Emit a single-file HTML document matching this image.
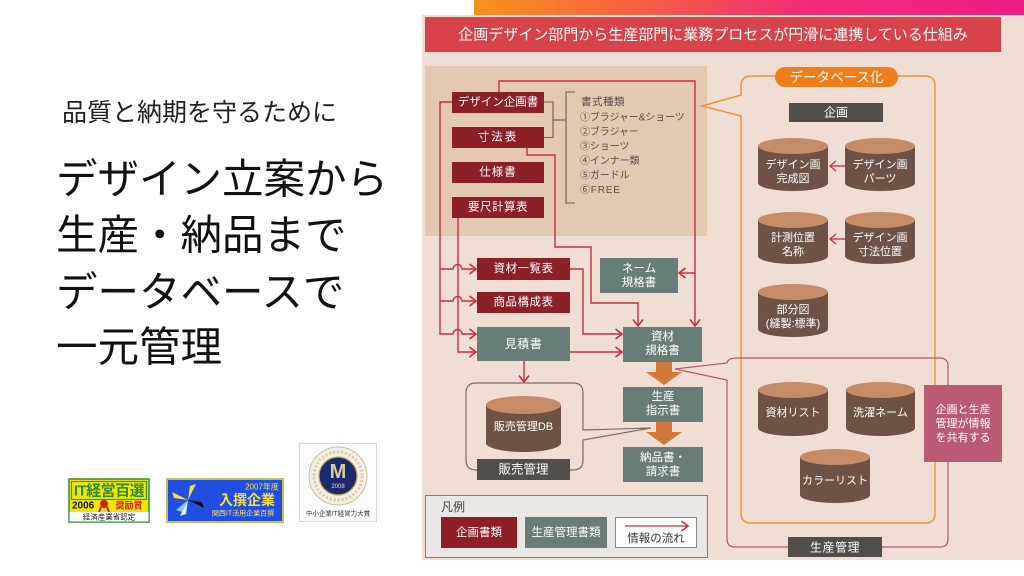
<!DOCTYPE html>
<html lang="ja">
<head>
<meta charset="utf-8">
<style>
html,body{margin:0;padding:0;background:#fff;}
body{width:1024px;height:576px;overflow:hidden;}
svg{display:block;}
text{font-family:"Liberation Sans","Noto Sans CJK JP",sans-serif;}
</style>
</head>
<body>
<svg width="1024" height="576" viewBox="0 0 1024 576" xmlns="http://www.w3.org/2000/svg">
<defs>
  <linearGradient id="bar" x1="0" y1="0" x2="1" y2="0">
    <stop offset="0" stop-color="#f7921c"/>
    <stop offset="0.35" stop-color="#f5574a"/>
    <stop offset="0.6" stop-color="#f02c76"/>
    <stop offset="1" stop-color="#ee1c86"/>
  </linearGradient>
  <marker id="ah" markerWidth="10" markerHeight="12" refX="8" refY="6" orient="auto" markerUnits="userSpaceOnUse">
    <path d="M1.5,1 L8,6 L1.5,11" fill="none" stroke="#cc2c3c" stroke-width="1.6"/>
  </marker>
</defs>

<!-- left text -->
<text x="62" y="113" font-size="25" fill="#222" dominant-baseline="central">品質と納期を守るために</text>
<text x="56" y="179" font-size="41.5" fill="#111" dominant-baseline="central">デザイン立案から</text>
<text x="56" y="235" font-size="41.5" fill="#111" dominant-baseline="central">生産・納品まで</text>
<text x="56" y="292" font-size="41.5" fill="#111" dominant-baseline="central">データベースで</text>
<text x="56" y="347" font-size="41.5" fill="#111" dominant-baseline="central">一元管理</text>

<!-- logos -->
<g>
  <rect x="69" y="479" width="80" height="43" fill="#f1e600" stroke="#2f8f3a" stroke-width="1.5"/>
  <rect x="71.5" y="481.5" width="75" height="18" fill="none" stroke="#2f8f3a" stroke-width="1.2"/>
  <text x="109" y="491" font-size="15" fill="#2d8b3a" text-anchor="middle" dominant-baseline="central" font-weight="bold" letter-spacing="-0.5">IT経営百選</text>
  <text x="72" y="506" font-size="10" fill="#111" dominant-baseline="central" font-weight="bold">2006</text>
  <circle cx="104" cy="504" r="4" fill="#d02020"/>
  <path d="M101,507 L99,512 M107,507 L109,512" stroke="#d02020" stroke-width="2"/>
  <rect x="114" y="500" width="32" height="11" fill="#f1e600"/>
  <text x="129" y="505.5" font-size="9" fill="#d02020" text-anchor="middle" dominant-baseline="central" font-weight="bold">奨励賞</text>
  <rect x="69.5" y="512" width="79" height="9.5" fill="#fff"/>
  <text x="109" y="517" font-size="7.5" fill="#222" text-anchor="middle" dominant-baseline="central">経済産業省認定</text>
</g>
<g>
  <rect x="167" y="479" width="116" height="43" fill="#1f4ee0" stroke="#c9c040" stroke-width="2"/>
  <g transform="translate(188,500)">
    <polygon points="0,0 -16,-8 -14,-2" fill="#f4e23a"/>
    <polygon points="0,0 8,-16 2,-14" fill="#f4e23a"/>
    <polygon points="0,0 16,8 14,2" fill="#111"/>
    <polygon points="0,0 -8,16 -2,14" fill="#e8f0ff"/>
    <polygon points="0,0 -12,10 -6,12" fill="#88c8f0"/>
  </g>
  <text x="262" y="487" font-size="8" fill="#f5e64a" text-anchor="middle" dominant-baseline="central">2007年度</text>
  <text x="247" y="500" font-size="14" fill="#f5e04a" text-anchor="middle" dominant-baseline="central" font-weight="bold">入撰企業</text>
  <text x="243" y="514" font-size="7" fill="#f8e070" text-anchor="middle" dominant-baseline="central">関西IT活用企業百撰</text>
</g>
<g>
  <rect x="299.5" y="443.5" width="77" height="78" fill="#fbfbfb" stroke="#d6d6d6"/>
  <circle cx="338" cy="476" r="29" fill="#f2efe6" stroke="#cdbf92" stroke-width="1"/>
  <circle cx="338" cy="476" r="24" fill="none" stroke="#d8ccaa" stroke-width="3" stroke-dasharray="2 2"/>
  <circle cx="338" cy="476" r="19" fill="#1c2a6b" stroke="#c9a84a" stroke-width="1.2"/>
  <text x="338" y="472" font-size="20" fill="#d9c9a0" text-anchor="middle" dominant-baseline="central" font-family="Liberation Serif, serif" font-weight="bold">M</text>
  <text x="338" y="487" font-size="6" fill="#ddd" text-anchor="middle" dominant-baseline="central">2008</text>
  <text x="338" y="514" font-size="6.5" fill="#333" text-anchor="middle" dominant-baseline="central">中小企業IT経営力大賞</text>
</g>

<!-- right panel -->
<rect x="474" y="0" width="550" height="15" fill="url(#bar)"/>
<rect x="422" y="15" width="602" height="545" fill="#f0ddd4"/>
<rect x="425" y="17" width="576" height="35" fill="#d8434b"/>
<text x="713" y="35" font-size="15" fill="#fff" text-anchor="middle" dominant-baseline="central">企画デザイン部門から生産部門に業務プロセスが円滑に連携している仕組み</text>

<!-- beige block -->
<rect x="425" y="66" width="282" height="170" fill="#e4c9b1"/>

<!-- bracket / list -->
<g stroke="#6e5c54" stroke-width="1.1" fill="none">
  <path d="M544,102 H553 V137.5 H544"/>
  <path d="M553,120 H566"/>
  <path d="M575,92 H566 V203 H575"/>
</g>
<g font-size="10" fill="#5b4b45" letter-spacing="-0.1">
  <text x="581" y="102" dominant-baseline="central" font-size="10.5" letter-spacing="0.5">書式種類</text>
  <text x="580" y="118" dominant-baseline="central">①ブラジャー&amp;ショーツ</text>
  <text x="580" y="132.5" dominant-baseline="central">②ブラジャー</text>
  <text x="580" y="147" dominant-baseline="central">③ショーツ</text>
  <text x="580" y="161.5" dominant-baseline="central">④インナー類</text>
  <text x="580" y="176" dominant-baseline="central">⑤ガードル</text>
  <text x="580" y="190.5" dominant-baseline="central" letter-spacing="0.8">⑥FREE</text>
</g>

<!-- orange database group -->
<path d="M751,76 H925 Q935,76 935,86 V513 Q935,523 925,523 H751 Q741,523 741,513 V116 L702,106 L741,95 V86 Q741,76 751,76 Z" fill="none" stroke="#f0953a" stroke-width="1.5"/>
<rect x="775" y="67" width="123" height="20" rx="10" fill="#ef7d1a"/>
<text x="836.5" y="77.5" font-size="13.5" fill="#fff" text-anchor="middle" dominant-baseline="central">データベース化</text>
<rect x="789" y="103" width="94" height="19" fill="#514d4b"/>
<text x="836" y="112.5" font-size="12" fill="#fff" text-anchor="middle" dominant-baseline="central">企画</text>

<!-- production group -->
<path d="M737,358 H940 Q948,358 948,366 V539 Q948,547 940,547 H735 Q727,547 727,539 V380 L675,369 L727,363 Q728,358 737,358 Z" fill="none" stroke="#b8586c" stroke-width="1.2"/>
<rect x="788" y="537" width="94" height="20" fill="#514d4b"/>
<text x="835" y="547.5" font-size="12" fill="#fff" text-anchor="middle" dominant-baseline="central" letter-spacing="0.5">生産管理</text>

<rect x="924" y="385" width="78" height="77" fill="#bb5a73"/>
<g font-size="11" fill="#fff" text-anchor="middle">
  <text x="963" y="410" dominant-baseline="central">企画と生産</text>
  <text x="963" y="424" dominant-baseline="central">管理が情報</text>
  <text x="963" y="438" dominant-baseline="central">を共有する</text>
</g>

<!-- cylinders -->
<g>
  <path d="M758,146 V183 A35,8 0 0 0 828,183 V146 Z" fill="#6f5246"/>
  <ellipse cx="793" cy="146" rx="35" ry="8" fill="#c68b67"/>
  <path d="M845,146 V183 A35,8 0 0 0 915,183 V146 Z" fill="#6f5246"/>
  <ellipse cx="880" cy="146" rx="35" ry="8" fill="#c68b67"/>
  <path d="M758,220 V256 A35,8 0 0 0 828,256 V220 Z" fill="#6f5246"/>
  <ellipse cx="793" cy="220" rx="35" ry="8" fill="#c68b67"/>
  <path d="M845,220 V256 A35,8 0 0 0 915,256 V220 Z" fill="#6f5246"/>
  <ellipse cx="880" cy="220" rx="35" ry="8" fill="#c68b67"/>
  <path d="M758,292 V329 A35,8 0 0 0 828,329 V292 Z" fill="#6f5246"/>
  <ellipse cx="793" cy="292" rx="35" ry="8" fill="#c68b67"/>
  <path d="M758,390 V428 A35,8 0 0 0 828,428 V390 Z" fill="#6f5246"/>
  <ellipse cx="793" cy="390" rx="35" ry="8" fill="#c68b67"/>
  <path d="M846,390 V428 A34.5,8 0 0 0 915,428 V390 Z" fill="#6f5246"/>
  <ellipse cx="880.5" cy="390" rx="34.5" ry="8" fill="#c68b67"/>
  <path d="M800,457 V495 A35,8 0 0 0 870,495 V457 Z" fill="#6f5246"/>
  <ellipse cx="835" cy="457" rx="35" ry="8" fill="#c68b67"/>
  <path d="M486,405 V443 A37.5,9 0 0 0 561,443 V405 Z" fill="#6f5246"/>
  <ellipse cx="523.5" cy="405" rx="37.5" ry="9" fill="#c68b67"/>
</g>
<g font-size="11" fill="#fff" text-anchor="middle">
  <text x="793" y="165" dominant-baseline="central">デザイン画</text>
  <text x="793" y="179" dominant-baseline="central">完成図</text>
  <text x="880" y="165" dominant-baseline="central">デザイン画</text>
  <text x="880" y="179" dominant-baseline="central">パーツ</text>
  <text x="793" y="238" dominant-baseline="central">計測位置</text>
  <text x="793" y="252" dominant-baseline="central">名称</text>
  <text x="880" y="238" dominant-baseline="central">デザイン画</text>
  <text x="880" y="252" dominant-baseline="central">寸法位置</text>
  <text x="793" y="310" dominant-baseline="central">部分図</text>
  <text x="793" y="324" dominant-baseline="central">(縫製:標準)</text>
  <text x="793" y="413" dominant-baseline="central">資材リスト</text>
  <text x="880.5" y="413" dominant-baseline="central">洗濯ネーム</text>
  <text x="835" y="481" dominant-baseline="central">カラーリスト</text>
  <text x="523.5" y="427" dominant-baseline="central">販売管理DB</text>
</g>
<g stroke="#cc2c3c" stroke-width="1.3" fill="none">
  <path d="M845,166 H830"/>
  <path d="M836,161 L830,166 L836,171"/>
  <path d="M845,239 H830"/>
  <path d="M836,234 L830,239 L836,244"/>
</g>

<!-- sales group -->
<path d="M476,383 H573 Q583,383 583,393 V430 L651,428 L583,440 V460 Q583,470 573,470 H476 Q466,470 466,460 V393 Q466,383 476,383 Z" fill="none" stroke="#7b6f6a" stroke-width="1.2"/>
<rect x="477" y="459" width="93" height="21" fill="#514d4b"/>
<text x="523.5" y="469.5" font-size="12.5" fill="#fff" text-anchor="middle" dominant-baseline="central">販売管理</text>

<!-- dark red boxes -->
<g fill="#8d1f26">
  <rect x="452" y="92" width="92" height="21"/>
  <rect x="452" y="127" width="92" height="21"/>
  <rect x="452" y="162" width="92" height="21"/>
  <rect x="452" y="197" width="92" height="21"/>
  <rect x="477" y="258" width="93" height="22"/>
  <rect x="477" y="292" width="93" height="21"/>
</g>
<g font-size="11.5" fill="#fff" text-anchor="middle">
  <text x="498" y="102.5" dominant-baseline="central">デザイン企画書</text>
  <text x="498" y="137.5" dominant-baseline="central" letter-spacing="2">寸法表</text>
  <text x="498" y="172.5" dominant-baseline="central" letter-spacing="1">仕様書</text>
  <text x="498" y="207.5" dominant-baseline="central" letter-spacing="0.5">要尺計算表</text>
  <text x="523.5" y="269" dominant-baseline="central" letter-spacing="0.5">資材一覧表</text>
  <text x="523.5" y="302.5" dominant-baseline="central" letter-spacing="0.5">商品構成表</text>
</g>

<!-- teal boxes -->
<g fill="#687c78">
  <rect x="477" y="327" width="93" height="34"/>
  <rect x="600" y="258" width="78" height="35"/>
  <rect x="623" y="327" width="79" height="35"/>
  <rect x="623" y="387" width="80" height="35"/>
  <rect x="623" y="447" width="80" height="35"/>
</g>
<g font-size="11.5" fill="#fff" text-anchor="middle">
  <text x="523.5" y="344" dominant-baseline="central" font-size="12" letter-spacing="0.5">見積書</text>
  <text x="639" y="269" dominant-baseline="central">ネーム</text>
  <text x="639" y="283" dominant-baseline="central">規格書</text>
  <text x="662.5" y="337" dominant-baseline="central">資材</text>
  <text x="662.5" y="351" dominant-baseline="central">規格書</text>
  <text x="663" y="397" dominant-baseline="central">生産</text>
  <text x="663" y="411" dominant-baseline="central">指示書</text>
  <text x="663" y="458" dominant-baseline="central">納品書・</text>
  <text x="663" y="472" dominant-baseline="central">請求書</text>
</g>

<!-- big orange arrows -->
<path d="M656,362 H672 V372 H682 L664,385 L646,372 H656 Z" fill="#d4773a"/>
<path d="M656,422 H672 V432 H682 L664,445 L646,432 H656 Z" fill="#d4773a"/>

<!-- red connectors -->
<g stroke="#cc2c3c" stroke-width="1.4" fill="none">
  <path d="M499,92 V81 H695 V326" marker-end="url(#ah)"/>
  <path d="M695,273 H679" marker-end="url(#ah)"/>
  <path d="M452,102 H440 V334 H453 a4.5,4.5 0 0 1 9,0 H476" marker-end="url(#ah)"/>
  <path d="M440,269 H453 a4.5,4.5 0 0 1 9,0 H476" marker-end="url(#ah)"/>
  <path d="M440,301 H453 a4.5,4.5 0 0 1 9,0 H476" marker-end="url(#ah)"/>
  <path d="M458,218 V352 H476" marker-end="url(#ah)"/>
  <path d="M527,148 V155 H555 V247 H591 V303 H638 V326" marker-end="url(#ah)"/>
  <path d="M570,269 H583 V334 H622" marker-end="url(#ah)"/>
  <path d="M570,352 H622" marker-end="url(#ah)"/>
  <path d="M524,361 V382" marker-end="url(#ah)"/>
</g>

<!-- legend -->
<rect x="425.5" y="495.5" width="282" height="62" fill="#ebe7e4" stroke="#857b76" stroke-width="1"/>
<text x="441" y="507" font-size="12" fill="#444" dominant-baseline="central">凡例</text>
<rect x="441" y="517" width="76" height="31" fill="#8d1f26"/>
<text x="479" y="533" font-size="11.5" fill="#fff" text-anchor="middle" dominant-baseline="central">企画書類</text>
<rect x="525" y="517" width="82" height="31" fill="#687c78"/>
<text x="566" y="533" font-size="11.5" fill="#fff" text-anchor="middle" dominant-baseline="central">生産管理書類</text>
<rect x="615.5" y="517.5" width="81" height="30" fill="#fff" stroke="#8a8a8a" stroke-width="1"/>
<path d="M625,526 H688" stroke="#cc2c3c" stroke-width="1.3" fill="none" marker-end="url(#ah)"/>
<text x="656" y="539" font-size="11.5" fill="#333" text-anchor="middle" dominant-baseline="central">情報の流れ</text>
</svg>
</body>
</html>
